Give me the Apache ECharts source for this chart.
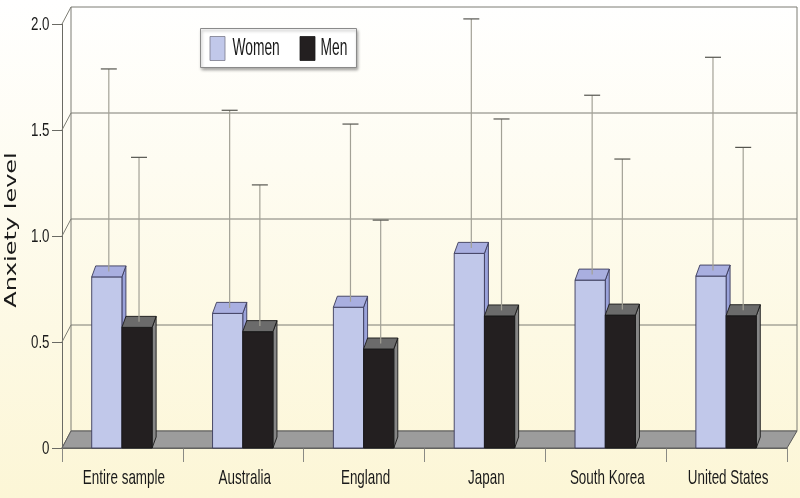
<!DOCTYPE html>
<html><head><meta charset="utf-8">
<script src="https://cdn.jsdelivr.net/npm/echarts@6/dist/echarts.min.js"></script>
<style>html,body{margin:0;padding:0;background:#fff}#c{width:800px;height:498px}</style>
</head><body><div id="c"></div>
<script>
const categories = ['Entire sample', 'Australia', 'England', 'Japan', 'South Korea', 'United States'];
const women = [0.807, 0.635, 0.664, 0.918, 0.792, 0.811];
const men = [0.569, 0.549, 0.467, 0.623, 0.627, 0.624];
const womenErrUpper = [1.788, 1.593, 1.528, 2.024, 1.664, 1.843];
const menErrUpper = [1.371, 1.241, 1.075, 1.552, 1.363, 1.418];
const yTicks = [0, 0.5, 1.0, 1.5, 2.0];
const yTickLabels = ['0', '0.5', '1.0', '1.5', '2.0'];
const seriesNames = ['Women', 'Men'];

const WALL_DX = 9, WALL_DY = -17;
const BAR_DX = 4, BAR_DY = -11;
const COND_FONT = '"Liberation Sans", Arial, sans-serif';

const chart = echarts.init(document.getElementById('c'), null, {renderer: 'canvas'});

function wallRender(params, api) {
  const cs = params.coordSys;
  const x0 = cs.x, x1 = cs.x + cs.width;
  const yb = api.coord([0, 0])[1];
  const yt = api.coord([0, yTicks[yTicks.length - 1]])[1];
  const ch = [];
  const lineStyle = {stroke: '#7d7d74', lineWidth: 1};
  yTicks.forEach((v, k) => {
    const y = api.coord([0, v])[1];
    ch.push({type: 'line', shape: {x1: x0 + WALL_DX, y1: y + WALL_DY, x2: x1 + WALL_DX + 1, y2: y + WALL_DY}, style: lineStyle});
    ch.push({type: 'line', shape: {x1: x0, y1: y, x2: x0 + WALL_DX, y2: y + WALL_DY}, style: lineStyle});
    ch.push({type: 'text', x: x0 - 12.5, y: y + 1, scaleX: 0.7,
      style: {text: yTickLabels[k], font: '19px ' + COND_FONT, fill: '#1a1a1a', align: 'right', verticalAlign: 'middle'}});
  });
  ch.push({type: 'line', shape: {x1: x0 + WALL_DX, y1: yt + WALL_DY, x2: x0 + WALL_DX, y2: yb + WALL_DY}, style: lineStyle});
  ch.push({type: 'line', shape: {x1: x1 + WALL_DX + 1, y1: yt + WALL_DY, x2: x1 + WALL_DX + 1, y2: yb + WALL_DY}, style: lineStyle});
  ch.push({type: 'polygon', shape: {points: [[x0, yb], [x0 + WALL_DX, yb + WALL_DY], [x1 + WALL_DX + 1, yb + WALL_DY], [x1, yb]]},
    style: {fill: '#9c9c9c', stroke: '#5a5a5a', lineWidth: 1}});
  categories.forEach((name, i) => {
    const cx = api.coord([i, 0])[0];
    ch.push({type: 'text', x: cx + 1.5, y: yb + 30, scaleX: 0.64,
      style: {text: name, font: '21px ' + COND_FONT, fill: '#1a1a1a', align: 'center', verticalAlign: 'middle'}});
  });
  return {type: 'group', children: ch};
}

function makeBarRender(values, uppers, side, colors) {
  return function (params, api) {
    const i = api.value(0);
    const v = values[i];
    const up = uppers[i];
    const bw = api.size([1, 0])[0] * 0.25;
    const c = api.coord([i, v]);
    const base = api.coord([i, 0])[1];
    const xl = side === 0 ? c[0] - bw - 0.5 : c[0] - 0.5;
    const xr = xl + bw;
    const yt = c[1];
    const st = {stroke: colors.line, lineWidth: 0.9, lineJoin: 'round'};
    const ch = [];
    ch.push({type: 'polygon', shape: {points: [[xr, base], [xr, yt], [xr + BAR_DX, yt + BAR_DY], [xr + BAR_DX, base + BAR_DY]]},
      style: Object.assign({fill: colors.side}, st)});
    ch.push({type: 'rect', shape: {x: xl, y: yt, width: bw, height: base - yt}, style: Object.assign({fill: colors.front}, st)});
    ch.push({type: 'polygon', shape: {points: [[xl, yt], [xl + BAR_DX, yt + BAR_DY], [xr + BAR_DX, yt + BAR_DY], [xr, yt]]},
      style: Object.assign({fill: colors.top}, st)});
    const ex = (xl + xr) / 2 + BAR_DX / 2;
    const ey0 = yt + BAR_DY / 2;
    const ey1 = api.coord([i, up])[1];
    ch.push({type: 'line', shape: {x1: ex, y1: ey0, x2: ex, y2: ey1}, style: {stroke: '#a3a196', lineWidth: 1.2}});
    ch.push({type: 'line', shape: {x1: ex - 8, y1: ey1, x2: ex + 8, y2: ey1}, style: {stroke: '#55554f', lineWidth: 1.2}});
    return {type: 'group', children: ch};
  };
}

const idx = categories.map((_, i) => [i]);

const legendGraphic = {
  type: 'group', left: 200, top: 28,
  children: [
    {type: 'rect', shape: {x: 0, y: 0, width: 156, height: 39},
      style: {fill: '#ffffff', stroke: '#8a8a8a', lineWidth: 1, shadowColor: 'rgba(0,0,0,0.35)', shadowBlur: 3, shadowOffsetX: 1, shadowOffsetY: 2}},
    {type: 'rect', shape: {x: 9.5, y: 8, width: 15, height: 24}, style: {fill: '#c1c8ea', stroke: '#7a7a8a', lineWidth: 0.8}},
    {type: 'text', x: 32, y: 20, scaleX: 0.6, style: {text: seriesNames[0], font: '23px ' + COND_FONT, fill: '#1a1a1a', align: 'left', verticalAlign: 'middle'}},
    {type: 'rect', shape: {x: 99.5, y: 8, width: 15, height: 24}, style: {fill: '#231f20', stroke: '#1a1a1a', lineWidth: 0.8}},
    {type: 'text', x: 120, y: 20, scaleX: 0.6, style: {text: seriesNames[1], font: '23px ' + COND_FONT, fill: '#1a1a1a', align: 'left', verticalAlign: 'middle'}}
  ]
};

const option = {
  animation: false,
  backgroundColor: {type: 'linear', x: 0, y: 0, x2: 0, y2: 1,
    colorStops: [{offset: 0, color: '#ffffff'}, {offset: 1, color: '#fcf6d6'}]},
  grid: {left: 62, right: 13, top: 24, bottom: 50, containLabel: false},
  xAxis: {
    type: 'category', data: categories, boundaryGap: true,
    axisLine: {lineStyle: {color: '#6a6a64', width: 1}},
    axisTick: {show: true, length: 14, lineStyle: {color: '#8a8a84'}},
    axisLabel: {show: false},
    splitLine: {show: false}
  },
  yAxis: {
    type: 'value', min: 0, max: 2, interval: 0.5,
    axisLine: {show: true, lineStyle: {color: '#6a6a64', width: 1}},
    axisTick: {show: true, length: 10, lineStyle: {color: '#6a6a64'}},
    axisLabel: {show: false},
    splitLine: {show: false}
  },
  graphic: [
    {type: 'text', x: 12, y: 230, rotation: Math.PI / 2, scaleX: 1.5,
      style: {text: 'Anxiety level', font: '16px "DejaVu Sans", sans-serif', fill: '#1a1a1a', align: 'center', verticalAlign: 'middle'}},
    legendGraphic
  ],
  series: [
    {type: 'custom', name: 'walls', data: [[0]], renderItem: wallRender, z: 1, silent: true},
    {type: 'custom', name: seriesNames[0], data: idx, z: 3, itemStyle: {color: '#c1c8ea'},
      renderItem: makeBarRender(women, womenErrUpper, 0, {front: '#c1c8ea', top: '#a9afe0', side: '#9aa2da', line: '#3a3a5a'})},
    {type: 'custom', name: seriesNames[1], data: idx, z: 4, itemStyle: {color: '#231f20'},
      renderItem: makeBarRender(men, menErrUpper, 1, {front: '#231f20', top: '#6b6b6b', side: '#858585', line: '#1a1a1a'})}
  ]
};
chart.setOption(option);
</script></body></html>
